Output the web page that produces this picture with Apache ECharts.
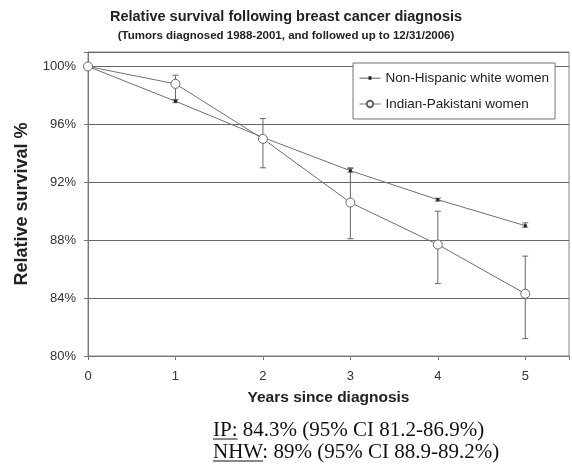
<!DOCTYPE html>
<html>
<head>
<meta charset="utf-8">
<script src="https://cdn.jsdelivr.net/npm/echarts@6/dist/echarts.min.js"></script>
<style>
  html, body { margin: 0; padding: 0; background: #fff; }
  #chart { width: 572px; height: 466px; }
</style>
</head>
<body>
<div id="chart"></div>
<script>
// years since diagnosis
var years = [0, 1, 2, 3, 4, 5];

// relative survival %
var nhwValues = [100, 97.6, 95.1, 92.8, 90.8, 89.0];
var nhwLow    = [100, 97.5, 95.0, 92.7, 90.7, 88.9];
var nhwHigh   = [100, 97.7, 95.2, 92.95, 90.9, 89.2];

var ipValues = [100, 98.8, 95.0, 90.6, 87.7, 84.3];
var ipLow    = [100, 97.7, 93.0, 88.1, 85.0, 81.2];
var ipHigh   = [100, 99.4, 96.4, 93.0, 90.0, 86.9];

var yTicks = [80, 84, 88, 92, 96, 100];

var footLines = [
    { pre: "IP:", rest: " 84.3% (95% CI 81.2-86.9%)" },
    { pre: "NHW", rest: ": 89% (95% CI 88.9-89.2%)" }
];

var grey = "#707070";
var dark = "#333";

function pairs(xs, ys) {
    return xs.map(function(x, i) { return [x, ys[i]]; });
}

function errData(lo, hi) {
    // skip year 0, no interval there
    var out = [];
    for (var i = 1; i < years.length; i++) {
        out.push([years[i], lo[i], hi[i]]);
    }
    return out;
}

function renderErr(params, api) {
    var x = api.value(0);
    var top = api.coord([x, api.value(2)]);
    var bot = api.coord([x, api.value(1)]);
    var cap = 3;
    var st = { stroke: "#666", lineWidth: 1 };
    return {
        type: "group",
        children: [
            { type: "line", shape: { x1: top[0], y1: top[1], x2: bot[0], y2: bot[1] }, style: st },
            { type: "line", shape: { x1: top[0] - cap, y1: top[1], x2: top[0] + cap, y2: top[1] }, style: st },
            { type: "line", shape: { x1: bot[0] - cap, y1: bot[1], x2: bot[0] + cap, y2: bot[1] }, style: st }
        ]
    };
}

// footnote with underlined prefixes
var footFont = "21px 'Liberation Serif'";
var ctx = document.createElement("canvas").getContext("2d");
ctx.font = footFont;
var footGraphics = [];
var footY = [431, 453];
footLines.forEach(function(l, i) {
    var x0 = 213;
    var w = ctx.measureText(l.pre).width;
    footGraphics.push({
        type: "text", left: x0, top: footY[i] - 11,
        style: { text: l.pre + l.rest, font: footFont, fill: "#111" }
    });
    footGraphics.push({
        type: "line",
        shape: { x1: x0, y1: footY[i] + 8, x2: x0 + w, y2: footY[i] + 8 },
        style: { stroke: "#111", lineWidth: 1 }
    });
});

// legend icon for NHW: thin line with small square marker
var nhwIcon = "path://M0,4.4L21,4.4L21,5.2L0,5.2Z M9,3L12,3L12,6.5L9,6.5Z";

var chart = echarts.init(document.getElementById("chart"), null, { renderer: "canvas" });

chart.setOption({
    animation: false,
    textStyle: { fontFamily: "Liberation Sans" },
    title: [{
        text: "Relative survival following breast cancer diagnosis",
        left: "center", top: 4,
        textStyle: { fontSize: 14.5, fontWeight: "bold", color: "#222", fontFamily: "Liberation Sans" }
    }, {
        text: "(Tumors diagnosed 1988-2001, and followed up to 12/31/2006)",
        left: "center", top: 25,
        textStyle: { fontSize: 11.5, fontWeight: "bold", color: "#222", fontFamily: "Liberation Sans" }
    }],
    legend: {
        orient: "vertical",
        left: 353, top: 63,
        width: 200,
        padding: [8, 6, 8, 6],
        itemGap: 12,
        itemWidth: 21, itemHeight: 8,
        backgroundColor: "#fff",
        borderColor: "#777", borderWidth: 1,
        lineStyle: { width: 1 },
        textStyle: { fontSize: 13.5, color: "#222" },
        data: [
            { name: "Non-Hispanic white women", icon: nhwIcon },
            { name: "Indian-Pakistani women" }
        ]
    },
    grid: {
        left: 88, right: 3, top: 52, bottom: 110,
        show: true, borderColor: "#888", borderWidth: 1
    },
    xAxis: {
        type: "value",
        min: 0, max: 5.5, interval: 1,
        name: "Years since diagnosis",
        nameLocation: "middle", nameGap: 34,
        nameTextStyle: { fontSize: 15.5, fontWeight: "bold", color: "#222" },
        axisLine: { show: true, onZero: false, lineStyle: { color: "#777" } },
        axisTick: { show: true, length: 4, lineStyle: { color: "#777" } },
        axisLabel: {
            margin: 14, fontSize: 13, color: dark,
            formatter: function(v) { return years.indexOf(v) >= 0 ? String(v) : ""; }
        },
        splitLine: { show: false }
    },
    yAxis: {
        type: "value",
        min: 80, max: 101, interval: 4,
        name: "Relative survival %",
        nameLocation: "middle", nameGap: 57,
        nameTextStyle: { fontSize: 18, fontWeight: "bold", color: "#222" },
        axisLine: { show: true, lineStyle: { color: "#777" } },
        axisTick: { show: true, length: 4, lineStyle: { color: "#777" } },
        axisLabel: {
            margin: 12, fontSize: 13, color: dark,
            formatter: function(v) { return yTicks.indexOf(v) >= 0 ? v + "%" : ""; }
        },
        splitLine: { show: true, lineStyle: { color: "#666", width: 1 } }
    },
    series: [{
        name: "Non-Hispanic white women",
        type: "line",
        data: pairs(years, nhwValues),
        symbol: "rect", symbolSize: 3,
        lineStyle: { color: grey, width: 1 },
        itemStyle: { color: "#222", borderWidth: 0 },
        z: 3
    }, {
        name: "Indian-Pakistani women",
        type: "line",
        data: pairs(years, ipValues),
        symbol: "circle", symbolSize: 9,
        showAllSymbol: true,
        lineStyle: { color: grey, width: 1 },
        itemStyle: { color: "#fff", borderColor: "#666", borderWidth: 1 },
        z: 4
    }, {
        type: "custom",
        renderItem: renderErr,
        data: errData(nhwLow, nhwHigh),
        z: 2, silent: true
    }, {
        type: "custom",
        renderItem: renderErr,
        data: errData(ipLow, ipHigh),
        z: 2, silent: true
    }],
    graphic: footGraphics
});
</script>
</body>
</html>
